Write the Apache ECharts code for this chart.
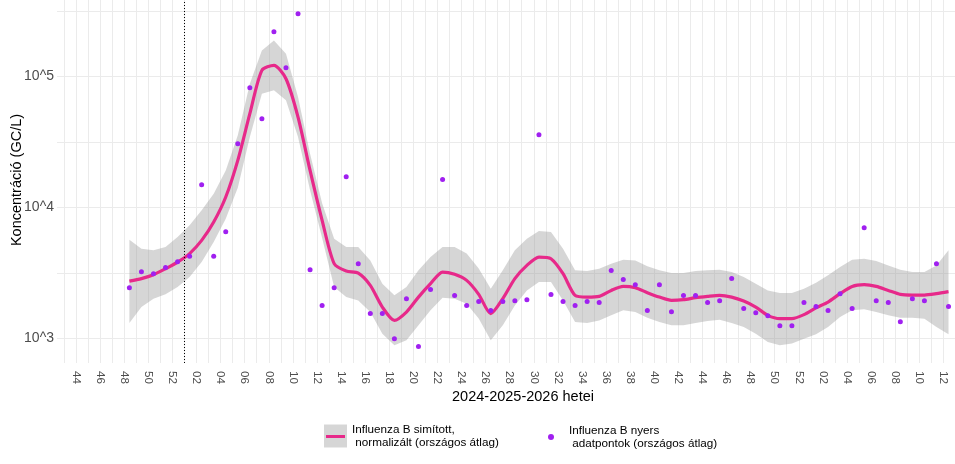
<!DOCTYPE html>
<html>
<head>
<meta charset="utf-8">
<title>Influenza B - szennyvíz</title>
<script src="https://cdn.jsdelivr.net/npm/echarts@6/dist/echarts.min.js"></script>
<style>
    html, body { margin: 0; padding: 0; background: #fff; }
    #chart { width: 955px; height: 464px; }
</style>
</head>
<body>
<div id="chart"></div>
<script>
/* week index 0 = 2024 W44, samples are Thursdays */
var firstWeek = 4;          // 2024 W48
var dayOffset = 3 / 7;
var newYearWeek = 9;        // 2025 W01 (dotted line)

/* labels for every second week, starting at index 0 */
var weekLabels = ['44', '46', '48', '50', '52',
    '02', '04', '06', '08', '10', '12', '14', '16', '18', '20', '22', '24', '26',
    '28', '30', '32', '34', '36', '38', '40', '42', '44', '46', '48', '50', '52',
    '02', '04', '06', '08', '10', '12'];

/* raw national average (GC/L), 2024 W48 .. 2026 W12 */
var rawValues = [2440, 3230, 3120, 3470, 3850, 4230, 14900, 4230, 6520, 30600,
    82000, 47500, 219000, 116500, 301000, 3340, 1780, 2440, 17100, 3720,
    1545, 1545, 995, 2010, 865, 2360, 16300, 2120, 1780, 1910,
    1630, 1910, 1940, 1975, 35900, 2160, 1910, 1780, 1910, 1875,
    3290, 2810, 2570, 1630, 2570, 1600, 2120, 2120, 1875, 1940,
    2860, 1690, 1570, 1490, 1250, 1250, 1875, 1750, 1630, 2190,
    1690, 7000, 1940, 1875, 1340, 2010, 1940, 3720, 1750];

/* smoothed, normalised curve */
var smoothValues = [2735, 2860, 3060, 3400, 3820, 4440, 5600, 7730, 12000, 22860,
    51900, 111200, 121300, 96000, 48900, 19150, 7960, 3720, 3265, 3150,
    2540, 1734, 1372, 1588, 2066, 2616, 3207, 3083, 2772, 2168,
    1544, 2010, 2858, 3607, 4178, 4057, 3119, 2130, 2066, 2093,
    2324, 2494, 2438, 2233, 2066, 1950, 1974, 2045, 2093, 2130,
    2066, 1927, 1734, 1499, 1414, 1414, 1517, 1710, 1893, 2194,
    2494, 2570, 2494, 2324, 2168, 2142, 2142, 2194, 2272];

/* confidence band */
var upperValues = [5665, 4840, 4697, 4977, 5933, 7290, 9490, 12730, 19150, 35500,
    88000, 157900, 188300, 149000, 69500, 25700, 10730, 5770, 4977, 4977,
    3938, 2616, 2130, 2464, 3305, 4178, 4977, 4977, 4436, 3422,
    2395, 3305, 4697, 5770, 6590, 6475, 4840, 3305, 3265, 3400,
    3720, 3990, 3938, 3548, 3305, 3150, 3150, 3265, 3305, 3345,
    3207, 2938, 2616, 2324, 2218, 2218, 2395, 2653, 3027, 3500,
    3990, 4057, 3890, 3607, 3345, 3207, 3207, 3607, 4697];
var lowerValues = [1309, 1734, 2010, 2168, 2464, 2938, 3822, 5433, 8200, 14090,
    34400, 73800, 78200, 65600, 34400, 13490, 5850, 2464, 2066, 1950,
    1588, 1086, 885, 966, 1257, 1636, 2045, 2010, 1841, 1421,
    966, 1257, 1786, 2324, 2690, 2690, 1950, 1332, 1309, 1372,
    1499, 1636, 1588, 1439, 1332, 1257, 1257, 1309, 1356, 1389,
    1309, 1219, 1086, 937, 885, 912, 995, 1074, 1219, 1455,
    1636, 1665, 1588, 1499, 1439, 1439, 1414, 1219, 1074];

/* y gridlines: labelled decades and half decades */
var yLabelValues = [1000, 10000, 100000];
var yGridValues = [1000, 3162, 10000, 31623, 100000, 316228];

var ribbonName = 'Influenza B simított,\n normalizált (országos átlag)';
var lineName = 'Influenza B simított görbe';
var pointName = 'Influenza B nyers\n adatpontok (országos átlag)';

var FONT = '"Liberation Sans", Arial, sans-serif';
var ribbonColor = 'rgba(153,153,153,0.4)';
var lineColor = '#E7298A';
var pointColor = '#A020F0';
var gridColor = '#EBEBEB';

/* x positions of the samples */
var sampleX = [];
for (var k = 0; k < rawValues.length; k++) {
    sampleX.push(firstWeek + k + dayOffset);
}
var pointData = [], lineData = [];
for (var k = 0; k < rawValues.length; k++) {
    pointData.push([sampleX[k], rawValues[k]]);
    lineData.push([sampleX[k], smoothValues[k]]);
}

/* a gridline every week, a label every second week */
var xTickValues = [];
for (var w = -1; w <= 75; w++) { xTickValues.push(w); }
var xLabelValues = [];
for (var j = 0; j < weekLabels.length; j++) { xLabelValues.push(j * 2); }

var chart = echarts.init(document.getElementById('chart'), null, { renderer: 'canvas' });

var option = {
    animation: false,
    textStyle: { fontFamily: FONT },
    grid: {
        left: 57, right: -34, top: -3, bottom: 101,
        containLabel: false,
        outerBoundsMode: 'none'
    },
    legend: [
        {
            data: [{ name: ribbonName, icon: 'rect', itemStyle: { color: '#D6D6D6' } }],
            left: 324, top: 423,
            padding: 0,
            itemWidth: 23, itemHeight: 23,
            selectedMode: false,
            textStyle: { color: '#000', fontSize: 11.7, lineHeight: 13, fontFamily: FONT }
        },
        {
            data: [{ name: lineName, icon: 'rect', itemStyle: { color: lineColor } }],
            left: 326, top: 435,
            padding: 0,
            itemWidth: 19, itemHeight: 3,
            selectedMode: false,
            formatter: function () { return ''; },
            textStyle: { fontSize: 1, lineHeight: 1 }
        },
        {
            data: [{ name: pointName, icon: 'circle', itemStyle: { color: pointColor } }],
            left: 548, top: 424,
            padding: 0,
            itemWidth: 6, itemHeight: 6,
            selectedMode: false,
            textStyle: { color: '#000', fontSize: 11.7, lineHeight: 13, fontFamily: FONT, padding: [0, 0, 0, 10] }
        }
    ],
    xAxis: {
        type: 'value',
        min: -1.58,
        max: 75.79,
        name: '2024-2025-2026 hetei',
        nameLocation: 'middle',
        nameGap: 26,
        nameMoveOverlap: false,
        nameTextStyle: { color: '#000', fontSize: 14.5, fontFamily: FONT },
        axisLine: { show: false },
        axisTick: { show: false, customValues: xTickValues },
        axisLabel: {
            customValues: xLabelValues,
            rotate: -90,
            margin: 8,
            color: '#4D4D4D',
            fontSize: 11.7,
            fontFamily: FONT,
            formatter: function (v) { return weekLabels[Math.round(v / 2)]; }
        },
        splitLine: { show: true, lineStyle: { color: gridColor, width: 1 } }
    },
    yAxis: {
        type: 'log',
        logBase: 10,
        min: Math.pow(10, 2.812),
        max: Math.pow(10, 5.606),
        name: 'Koncentráció (GC/L)',
        nameLocation: 'middle',
        nameRotate: 90,
        nameGap: 33,
        nameMoveOverlap: false,
        nameTextStyle: { color: '#000', fontSize: 14.5, fontFamily: FONT },
        axisLine: { show: false },
        axisTick: { show: false, customValues: yGridValues },
        axisLabel: {
            customValues: yLabelValues,
            margin: 3,
            color: '#4D4D4D',
            fontSize: 14,
            fontFamily: FONT,
            formatter: function (v) { return '10^' + Math.round(Math.log10(v)); }
        },
        splitLine: { show: true, lineStyle: { color: gridColor, width: 1 } },
        minorSplitLine: { show: false }
    },
    series: [
        {
            // confidence band as one polygon
            name: ribbonName,
            type: 'custom',
            z: 1,
            silent: true,
            itemStyle: { color: ribbonColor },
            data: [[sampleX[0], upperValues[0]]],
            encode: { x: 0, y: 1 },
            renderItem: function (params, api) {
                var pts = [];
                for (var i = 0; i < upperValues.length; i++) {
                    pts.push(api.coord([sampleX[i], upperValues[i]]));
                }
                for (var i = lowerValues.length - 1; i >= 0; i--) {
                    pts.push(api.coord([sampleX[i], lowerValues[i]]));
                }
                return { type: 'polygon', shape: { points: pts }, style: { fill: ribbonColor } };
            }
        },
        {
            name: lineName,
            type: 'line',
            z: 2,
            data: lineData,
            showSymbol: false,
            smooth: 0.25,
            itemStyle: { color: lineColor },
            lineStyle: { color: lineColor, width: 3.2 }
        },
        {
            name: pointName,
            type: 'scatter',
            z: 3,
            data: pointData,
            symbolSize: 5,
            itemStyle: { color: pointColor, opacity: 1 },
            markLine: {
                silent: true,
                symbol: 'none',
                label: { show: false },
                lineStyle: { color: '#000', width: 1, type: [1, 2] },
                data: [{ xAxis: newYearWeek }]
            }
        }
    ]
};

chart.setOption(option);
</script>
</body>
</html>
